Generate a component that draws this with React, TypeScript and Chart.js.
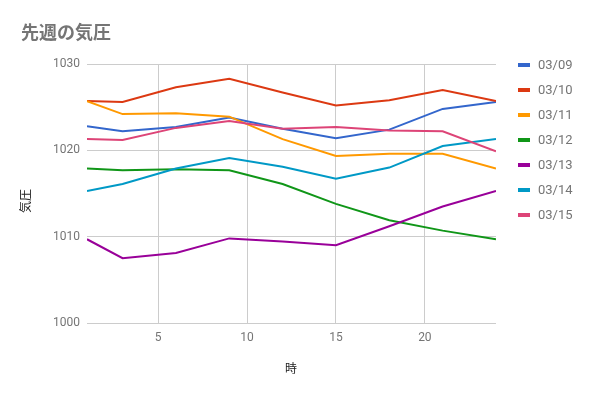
import React, { useEffect, useRef } from "react";
import { Chart, registerables } from "chart.js";

Chart.register(...registerables);

const titleText = "先週の気圧";
const xTitle = "時";
const yTitle = "気圧";
const hours = [1, 3, 6, 9, 12, 15, 18, 21, 24];
const seriesLabels = ["03/09", "03/10", "03/11", "03/12", "03/13", "03/14", "03/15"];
const s0309 = [1022.8, 1022.2, 1022.7, 1023.8, 1022.5, 1021.4, 1022.4, 1024.8, 1025.6];
const s0310 = [1025.7, 1025.6, 1027.3, 1028.3, 1026.7, 1025.2, 1025.8, 1027.0, 1025.7];
const s0311 = [1025.7, 1024.2, 1024.3, 1023.9, 1021.3, 1019.35, 1019.6, 1019.6, 1017.9];
const s0312 = [1017.9, 1017.7, 1017.8, 1017.7, 1016.1, 1013.8, 1011.9, 1010.7, 1009.7];
const s0313 = [1009.7, 1007.5, 1008.1, 1009.8, 1009.45, 1009.0, 1011.2, 1013.5, 1015.3];
const s0314 = [1015.3, 1016.1, 1017.9, 1019.1, 1018.1, 1016.7, 1018.0, 1020.5, 1021.3];
const s0315 = [1021.3, 1021.2, 1022.6, 1023.4, 1022.5, 1022.7, 1022.3, 1022.2, 1019.9];
const seriesValues = [s0309, s0310, s0311, s0312, s0313, s0314, s0315];
const colors = ["#3366CC", "#DC3912", "#FF9900", "#109618", "#990099", "#0099C6", "#DD4477"];
const xTicks = [5, 10, 15, 20];
const yTicks = [1000, 1010, 1020, 1030];

const FONT = "Roboto, 'Noto Sans CJK JP', sans-serif";

const decorPlugin = {
  id: "decor",
  afterDraw(chart: any) {
    const ctx = chart.ctx;
    ctx.save();
    // title
    ctx.fillStyle = "#757575";
    ctx.font = `bold 18px ${FONT}`;
    ctx.textAlign = "left";
    ctx.textBaseline = "middle";
    ctx.fillText(titleText, 21, 34);
    // legend
    ctx.font = `13px ${FONT}`;
    chart.data.datasets.forEach((ds: any, i: number) => {
      const y = 65 + i * 25;
      ctx.fillStyle = ds.borderColor;
      ctx.fillRect(518, y - 2, 12, 4);
      ctx.fillStyle = "#757575";
      ctx.textAlign = "left";
      ctx.textBaseline = "middle";
      ctx.fillText(ds.label, 538, y + 0.5);
    });
    // axis titles
    ctx.fillStyle = "#222222";
    ctx.font = `12px ${FONT}`;
    ctx.textAlign = "center";
    ctx.textBaseline = "middle";
    ctx.fillText(xTitle, 291, 370);
    ctx.translate(27, 201);
    ctx.rotate(-Math.PI / 2);
    ctx.fillText(yTitle, 0, 0);
    ctx.restore();
  },
};

export default function App() {
  const ref = useRef<HTMLCanvasElement | null>(null);
  useEffect(() => {
    if (!ref.current) return;
    const chart = new Chart(ref.current, {
      type: "line",
      data: {
        datasets: seriesLabels.map((label, i) => ({
          label,
          data: hours.map((h, j) => ({ x: h, y: seriesValues[i][j] })),
          borderColor: colors[i],
          backgroundColor: colors[i],
          borderWidth: 2,
          pointRadius: 0,
          tension: 0,
          fill: false,
          order: -i,
        })),
      },
      options: {
        animation: false,
        responsive: false,
        maintainAspectRatio: false,
        layout: { padding: { left: 0, top: 64, right: 95, bottom: 0 } },
        plugins: {
          legend: { display: false },
          title: { display: false },
          tooltip: { enabled: false },
        },
        scales: {
          x: {
            type: "linear",
            min: 1,
            max: 24,
            afterBuildTicks: (s: any) => {
              s.ticks = xTicks.map((v) => ({ value: v }));
            },
            afterFit: (s: any) => {
              s.height = 74;
            },
            grid: { color: "#cccccc", drawTicks: false, lineWidth: 1 },
            border: { display: false },
            ticks: {
              color: "#757575",
              font: { family: FONT, size: 12 },
              padding: 8,
              maxRotation: 0,
              callback: (v: any) => String(v),
            },
          },
          y: {
            type: "linear",
            min: 1000,
            max: 1030,
            afterBuildTicks: (s: any) => {
              s.ticks = yTicks.map((v) => ({ value: v }));
            },
            afterFit: (s: any) => {
              s.width = 87;
            },
            grid: { color: "#cccccc", drawTicks: false, lineWidth: 1 },
            border: { display: false },
            ticks: {
              color: "#757575",
              font: { family: FONT, size: 12 },
              padding: 7,
              callback: (v: any) => String(v),
            },
          },
        },
      },
      plugins: [decorPlugin],
    });
    return () => chart.destroy();
  }, []);
  return (
    <div style={{ position: "absolute", left: 0, top: 0, width: 591, height: 397, background: "#fff" }}>
      <canvas ref={ref} width={591} height={397} style={{ width: 591, height: 397, display: "block" }} />
    </div>
  );
}
